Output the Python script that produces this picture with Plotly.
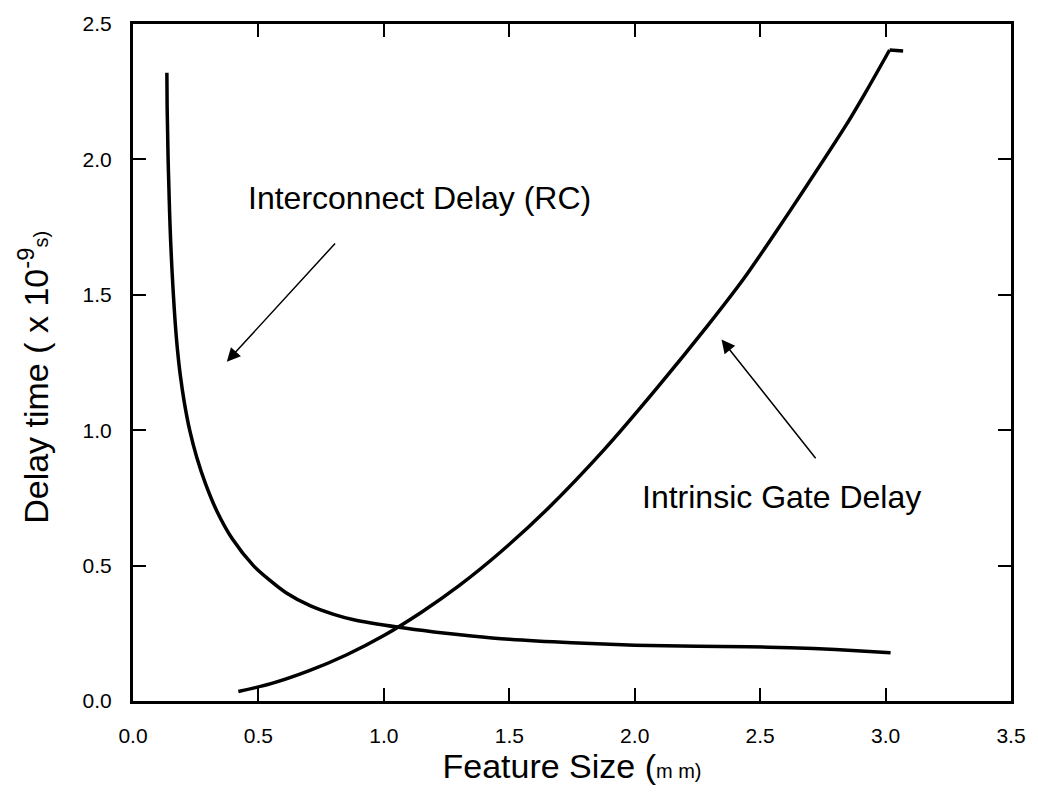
import plotly.graph_objects as go

# Interconnect (RC) delay versus feature size
rc_size = [0.135, 0.136, 0.138, 0.140, 0.143, 0.146, 0.150, 0.155, 0.161, 0.168,
           0.177, 0.189, 0.205, 0.226, 0.254, 0.290, 0.335, 0.395, 0.48, 0.54,
           0.61, 0.71, 0.80, 0.88, 1.06, 1.20, 1.35, 1.50, 1.75, 2.00,
           2.25, 2.45, 2.62, 2.80, 3.02]
rc_delay = [2.32, 2.20, 2.10, 2.00, 1.90, 1.80, 1.70, 1.60, 1.50, 1.40,
            1.30, 1.20, 1.10, 1.00, 0.90, 0.80, 0.70, 0.60, 0.50, 0.45,
            0.40, 0.35, 0.32, 0.30, 0.272, 0.255, 0.240, 0.228, 0.215, 0.206,
            0.202, 0.200, 0.197, 0.190, 0.178]

# Intrinsic gate delay versus feature size
gate_size = [0.42, 0.55, 0.70, 0.85, 1.00, 1.15, 1.30, 1.47, 1.65, 1.88,
             2.09, 2.29, 2.435, 2.554, 2.673, 2.845, 2.925, 3.016]
gate_delay = [0.035, 0.064, 0.111, 0.170, 0.242, 0.328, 0.426, 0.554, 0.707, 0.93,
              1.157, 1.385, 1.56, 1.72, 1.885, 2.13, 2.255, 2.404]
# short end stroke of the gate-delay curve
gate_tail_size = [3.016, 3.07]
gate_tail_delay = [2.404, 2.40]

x_ticks = [0.0, 0.5, 1.0, 1.5, 2.0, 2.5, 3.0, 3.5]
y_ticks = [0.0, 0.5, 1.0, 1.5, 2.0, 2.5]

FONT = "Liberation Sans, Arial, sans-serif"

fig = go.Figure()
fig.add_trace(go.Scatter(x=rc_size, y=rc_delay, mode="lines",
                         line=dict(color="black", width=3.5, shape="spline", smoothing=0.8),
                         showlegend=False, hoverinfo="skip"))
fig.add_trace(go.Scatter(x=gate_size, y=gate_delay, mode="lines",
                         line=dict(color="black", width=3.5, shape="spline", smoothing=0.8),
                         showlegend=False, hoverinfo="skip"))
fig.add_trace(go.Scatter(x=gate_tail_size, y=gate_tail_delay, mode="lines",
                         line=dict(color="black", width=3.5),
                         showlegend=False, hoverinfo="skip"))

axis_common = dict(
    showline=True, linecolor="black", linewidth=3, mirror="ticks",
    ticks="inside", ticklen=13, tickwidth=2, tickcolor="black",
    showgrid=False, zeroline=False,
    tickfont=dict(family=FONT, size=21, color="black"),
)

fig.update_xaxes(range=[0, 3.5], tickvals=x_ticks,
                 ticktext=[f"{v:.1f}" for v in x_ticks],
                 ticklabelstandoff=14,
                 title=dict(text="Feature Size (<span style='font-size:20px'>m m)</span>",
                            font=dict(family=FONT, size=34, color="black"), standoff=2),
                 **axis_common)
fig.update_yaxes(range=[0, 2.5], tickvals=y_ticks,
                 ticktext=[f"{v:.1f}" for v in y_ticks],
                 ticklabelstandoff=14,
                 **axis_common)

# Vertical axis title
fig.add_annotation(xref="paper", yref="paper", x=-0.1134, y=0.478,
                   text="Delay time ( x 10<sup>-9</sup><span style='font-size:20px'>s)</span>",
                   textangle=-90, showarrow=False, xanchor="center", yanchor="middle",
                   font=dict(family=FONT, size=34, color="black"))

fig.add_annotation(x=1.142, y=1.859, text="Interconnect Delay (RC)", showarrow=False,
                   font=dict(family=FONT, size=32, color="black"),
                   xanchor="center", yanchor="middle")
fig.add_annotation(x=2.587, y=0.755, text="Intrinsic Gate Delay", showarrow=False,
                   font=dict(family=FONT, size=32, color="black"),
                   xanchor="center", yanchor="middle")

# Pointer arrows from the labels to their curves
fig.add_annotation(x=0.374, y=1.253, ax=0.811, ay=1.695, axref="x", ayref="y",
                   xref="x", yref="y", text="", showarrow=True,
                   arrowhead=2, arrowsize=1.8, arrowwidth=1.5, arrowcolor="black")
fig.add_annotation(x=2.346, y=1.335, ax=2.726, ay=0.891, axref="x", ayref="y",
                   xref="x", yref="y", text="", showarrow=True,
                   arrowhead=2, arrowsize=1.8, arrowwidth=1.5, arrowcolor="black")

fig.update_layout(
    width=1038, height=800,
    margin=dict(l=133, r=23, t=22, b=99),
    paper_bgcolor="white", plot_bgcolor="white",
    font=dict(family=FONT, color="black"),
)

fig.write_html("out.html")
